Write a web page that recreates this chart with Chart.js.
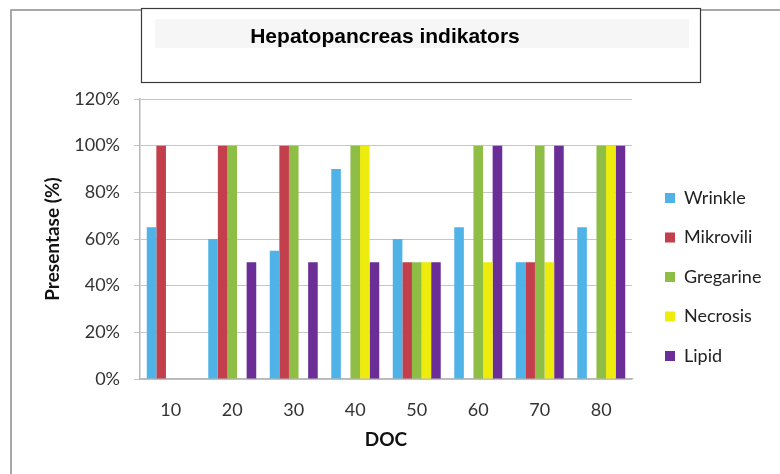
<!DOCTYPE html>
<html>
<head>
<meta charset="utf-8">
<script src="https://cdn.jsdelivr.net/npm/chart.js@4.4.1/dist/chart.umd.min.js"></script>
<style>
  html, body { margin: 0; padding: 0; background: #ffffff; }
  #wrap { width: 780px; height: 474px; position: relative; }
</style>
</head>
<body>
<div id="wrap"><canvas id="c" width="780" height="474"></canvas></div>
<script>
const categories = ['10', '20', '30', '40', '50', '60', '70', '80'];
const wrinkle    = [65, 60, 55, 90, 60, 65, 50, 65];
const mikrovili  = [100, 100, 100, 0, 50, 0, 50, 0];
const gregarine  = [0, 100, 100, 100, 50, 100, 100, 100];
const necrosis   = [0, 0, 0, 100, 50, 50, 50, 100];
const lipid      = [0, 50, 50, 50, 50, 100, 100, 100];
const yTicks     = [0, 20, 40, 60, 80, 100, 120];
const seriesNames = ['Wrinkle', 'Mikrovili', 'Gregarine', 'Necrosis', 'Lipid'];
const seriesColors = ['#4fb3e8', '#c23f4b', '#8ebe45', '#eeec0c', '#6a2e96'];
const chartTitle = 'Hepatopancreas indikators';
const xTitle = 'DOC';
const yTitle = 'Presentase (%)';

const seriesValues = [wrinkle, mikrovili, gregarine, necrosis, lipid];

const LEG_PAD = 21.5;

const framePlugin = {
  id: 'frame',
  beforeDraw(chart) {
    const ctx = chart.ctx;
    ctx.save();
    ctx.fillStyle = '#ffffff';
    ctx.fillRect(0, 0, chart.width, chart.height);
    // outer frame
    ctx.strokeStyle = '#8c8c8c';
    ctx.lineWidth = 1.5;
    ctx.beginPath();
    ctx.moveTo(11, 474);
    ctx.lineTo(11, 10);
    ctx.lineTo(780, 10);
    ctx.stroke();
    // title box
    ctx.fillStyle = '#ffffff';
    ctx.fillRect(141, 8, 559, 74);
    ctx.strokeStyle = '#3a3a3a';
    ctx.lineWidth = 1.2;
    ctx.strokeRect(141.5, 8.5, 559, 74);
    ctx.fillStyle = '#f6f6f6';
    ctx.fillRect(155, 19, 534, 29);
    ctx.restore();
  },
  afterLayout(chart) {
    const lg = chart.legend;
    if (!lg) return;
    const dx = 665 - (lg.left + LEG_PAD);
    lg.left += dx;
    lg.right += dx;
    lg.top = 189 - LEG_PAD;
    lg.bottom = 474;
  }
};

new Chart(document.getElementById('c'), {
  type: 'bar',
  data: {
    labels: categories,
    datasets: seriesNames.map((name, i) => ({
      label: name,
      data: seriesValues[i],
      backgroundColor: seriesColors[i],
      borderWidth: 0,
      categoryPercentage: 0.78,
      barPercentage: 1.0
    }))
  },
  options: {
    responsive: false,
    animation: false,
    devicePixelRatio: 1,
    layout: { padding: { left: 14, right: 24, top: 0, bottom: 15 } },
    plugins: {
      title: {
        display: true,
        text: chartTitle,
        color: '#000000',
        font: { family: "'Liberation Sans', Arial, sans-serif", size: 21, weight: 'bold', lineHeight: 1.2 },
        padding: { top: 24.4, bottom: 49.4 }
      },
      legend: {
        display: true,
        position: 'right',
        align: 'start',
        maxWidth: 124,
        labels: {
          boxWidth: 10,
          boxHeight: 10,
          padding: LEG_PAD,
          color: '#222222',
          font: { family: 'Lato, sans-serif', size: 18 }
        }
      },
      tooltip: { enabled: false }
    },
    scales: {
      x: {
        grid: { display: false, drawTicks: false },
        border: { display: true, color: '#b8b8b8', width: 1.5 },
        ticks: {
          color: '#333333',
          padding: 20,
          font: { family: 'Lato, sans-serif', size: 18 }
        },
        title: {
          display: true,
          text: xTitle,
          color: '#111111',
          font: { family: 'Lato, sans-serif', size: 19, weight: 'bold', lineHeight: 1.2 },
          padding: { top: 0, bottom: 7.6 }
        },
        afterFit(scale) { scale.height = 80; }
      },
      y: {
        min: 0,
        max: 120,
        grid: { color: '#c6c6c6', lineWidth: 1, drawTicks: true, tickLength: 6, tickColor: '#c6c6c6' },
        border: { display: true, color: '#b8b8b8', width: 1.5 },
        afterBuildTicks(scale) { scale.ticks = yTicks.map(v => ({ value: v })); },
        ticks: {
          color: '#333333',
          padding: 14,
          font: { family: 'Lato, sans-serif', size: 18 },
          callback: v => v + '%'
        },
        title: {
          display: true,
          text: yTitle,
          color: '#111111',
          font: { family: 'Lato, sans-serif', size: 19, weight: 'bold', lineHeight: 1.2 },
          padding: { top: 27.6, bottom: 0 }
        },
        afterFit(scale) { scale.width = 126; }
      }
    }
  },
  plugins: [framePlugin]
});
</script>
</body>
</html>
